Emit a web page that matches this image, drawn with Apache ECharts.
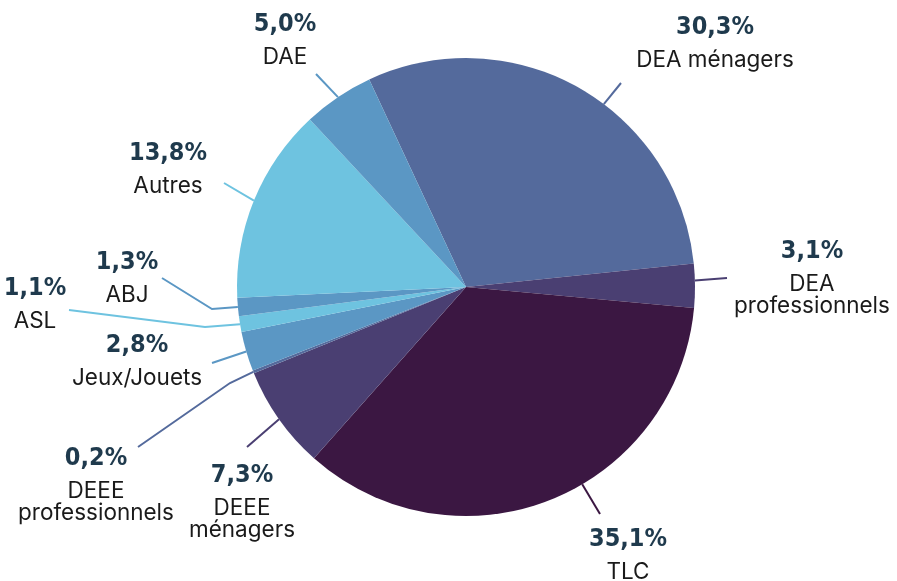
<!DOCTYPE html>
<html>
<head>
<meta charset="utf-8">
<script src="https://cdn.jsdelivr.net/npm/echarts@6/dist/echarts.min.js"></script>
<style>
  html, body { margin: 0; padding: 0; background: #fff; }
  #chart { width: 897px; height: 581px; }
</style>
</head>
<body>
<div id="chart"></div>
<script>
// clockwise from the top-left edge of "DEA ménagers"
const names = ['DEA ménagers', 'DEA\nprofessionnels', 'TLC', 'DEEE\nménagers', 'DEEE\nprofessionnels',
  'Jeux/Jouets', 'ASL', 'ABJ', 'Autres', 'DAE'];
const shares = [30.3, 3.1, 35.1, 7.3, 0.2, 2.8, 1.1, 1.3, 13.8, 5.0];
const colors = ['#546a9c', '#4a3f72', '#3b1742', '#4a3f72', '#546a9c',
  '#5b97c4', '#6ec3e0', '#5b97c4', '#6ec3e0', '#5b97c4'];

const CX = 466, CY = 287, R = 229;

// label placement (centre of the percentage line) and guide-line bends
const labelAt = [[715, 27], [812, 251], [628, 539], [242, 475], [96, 458],
  [137, 345], [35, 288], [127, 262], [168, 153], [285, 24]];
const lineEnd = [[621, 83], [727, 278], [600, 514], [247, 447], [138, 447],
  [212, 363], [69, 310], [162, 278], [224, 183], [316, 74]];
const lineBend = [null, null, null, null, [230, 383], null, [205, 327], [212, 309], null, null];
// guide lines that leave the slice away from its middle (degrees, ccw from 3 o'clock)
const lineFromAngle = [53, 1.6, -59.5, null, null, null, null, null, null, null];

const chart = echarts.init(document.getElementById('chart'));

chart.setOption({
  animation: false,
  series: [
    {
      type: 'pie',
      center: [CX, CY],
      radius: R,
      startAngle: 115,
      clockwise: true,
      avoidLabelOverlap: false,
      data: names.map((n, i) => ({
        name: n,
        value: shares[i],
        itemStyle: { color: colors[i] },
        labelLine: { lineStyle: { color: colors[i] } },
      })),
      itemStyle: { borderWidth: 0 },
      label: {
        show: true,
        position: 'outside',
        formatter: (p) => {
          const pct = '{p|' + p.value.toFixed(1).replace('.', ',') + '%}';
          const lines = p.name.split('\n').map((s) => '{n|' + s + '}');
          return pct + '\n' + lines.join('\n');
        },
        rich: {
          p: {
            fontFamily: '"DejaVu Sans Condensed", "Liberation Sans Narrow", Roboto, sans-serif',
            fontWeight: 'bold',
            fontSize: 25,
            lineHeight: 44,
            color: '#1f3a4d',
            align: 'center',
          },
          n: {
            fontFamily: 'Inter, "Open Sans", sans-serif',
            fontSize: 22.5,
            lineHeight: 22,
            color: '#1a1a1a',
            align: 'center',
          },
        },
      },
      labelLine: {
        show: true,
        length: 20,
        length2: 10,
        lineStyle: { width: 2 },
      },
      labelLayout: (params) => {
        const i = params.dataIndex;
        let start = params.labelLinePoints ? params.labelLinePoints[0] : lineEnd[i];
        if (lineFromAngle[i] !== null) {
          const a = lineFromAngle[i] * Math.PI / 180;
          start = [CX + R * Math.cos(a), CY - R * Math.sin(a)];
        }
        const end = lineEnd[i];
        const mid = lineBend[i] || end;
        return {
          x: labelAt[i][0],
          y: labelAt[i][1] - 22,
          align: 'center',
          verticalAlign: 'top',
          labelLinePoints: [start, mid, end],
        };
      },
    },
  ],
});
</script>
</body>
</html>
